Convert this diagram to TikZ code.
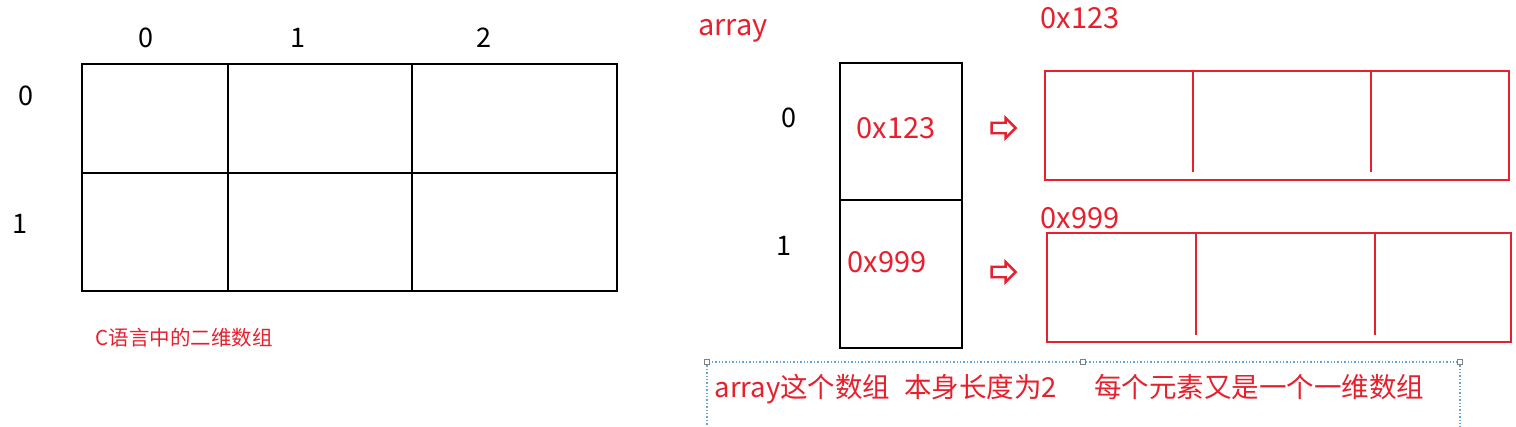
\documentclass[tikz,border=0pt]{standalone}
\usepackage{fontspec}
\setmainfont{Noto Sans CJK SC}
\usetikzlibrary{positioning,shapes.arrows}
\definecolor{penred}{RGB}{230,32,45}
\definecolor{selblue}{RGB}{100,165,220}

\begin{document}
\begin{tikzpicture}[x=1pt,y=-1pt,
	cell/.style = { draw=black, line width=2.4pt },
	redcell/.style = { draw=penred, line width=2.4pt },
	idx/.style = { font=\fontsize{27}{30}\selectfont },
	addr/.style = { text=penred, font=\fontsize{29}{32}\selectfont },
	fatarrow/.style = { single arrow, draw=penred, line width=2.4pt,
		inner sep=3.2pt, minimum height=24pt, single arrow head extend=4pt }]

  \useasboundingbox (0,0) rectangle (1516,427);

  % the C two-dimensional array
  \draw[cell] (82,64) rectangle (617,291);
  \draw[cell] (82,173) -- (617,173);
  \draw[cell] (228,64) -- (228,291);
  \draw[cell] (412,64) -- (412,291);
  \node[idx] (col0) at (146,38) {0};
  \node[idx] (col1) at (298,38) {1};
  \node[idx] (col2) at (484,38) {2};
  \node[idx] (row0) at (26,96) {0};
  \node[idx] (row1) at (20,224) {1};
  \node[text=penred, font=\fontsize{20.5}{24}\selectfont] (cname) at (184,338) {C语言中的二维数组};

  % array of pointers
  \node[addr] (arr) at (733,31) {array};
  \draw[cell] (840,63) rectangle (962,348);
  \draw[cell] (840,200) -- (962,200);
  \node[idx] (idx0) at (789,118) {0};
  \node[idx] (idx1) at (784,246) {1};
  \node[addr] (ptr0) at (896,128) {0x123};
  \node[addr] (ptr1) at (887,262) {0x999};
  \node[fatarrow, minimum width=20pt] (go0) at (1001,128) {};
  \node[fatarrow, minimum width=20pt] (go1) at (1001,272) {};

  % the rows themselves
  \node[addr] (row0addr) at (1080,18) {0x123};
  \draw[redcell] (1045,71) rectangle (1509,180);
  \draw[redcell] (1193,71) -- (1193,172);
  \draw[redcell] (1371,71) -- (1371,172);
  \node[addr] (row1addr) at (1080,218) {0x999};
  \draw[redcell] (1047,233) rectangle (1511,342);
  \draw[redcell] (1196,233) -- (1196,335);
  \draw[redcell] (1375,233) -- (1375,335);

  % selected text box
  \draw[selblue, dotted, line width=1.4pt] (707,362) rectangle (1460,440);
  \foreach \hx in {707,1083,1460}
    \draw[gray, fill=white, line width=0.8pt] (\hx-2.5,359.5) rectangle (\hx+2.5,364.5);
  \node[text=penred, font=\fontsize{27.5}{30}\selectfont, anchor=west] (remark) at (711,389)
    {array这个数组\hspace{14pt}本身长度为2\hspace{37pt}每个元素又是一个一维数组};
\end{tikzpicture}
\end{document}
